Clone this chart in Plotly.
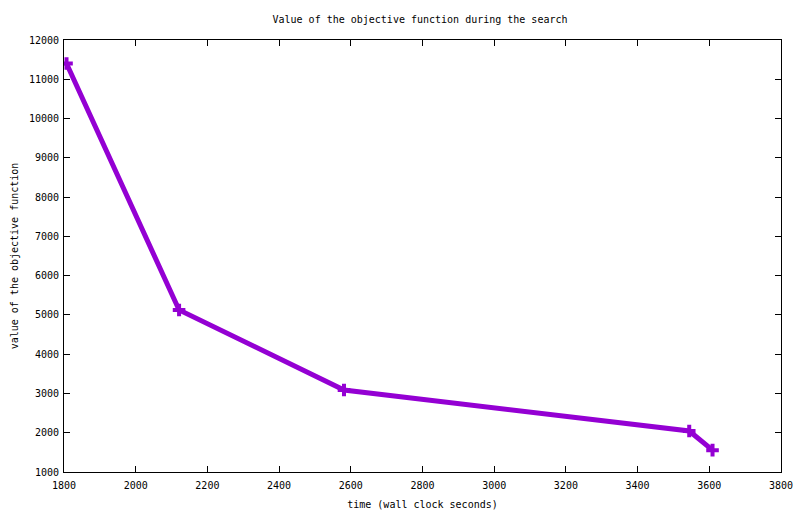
import plotly.graph_objects as go

time_s = [1807, 2121, 2581, 3544, 3609]
objective = [11400, 5125, 3088, 2045, 1557]

FONT = dict(family="DejaVu Sans Mono, Liberation Mono, monospace", size=10, color="black")

fig = go.Figure()
fig.add_trace(go.Scatter(
    x=time_s, y=objective, mode="lines+markers",
    line=dict(color="#9400D3", width=5),
    marker=dict(symbol="cross-thin", size=9, color="#9400D3",
                line=dict(color="#9400D3", width=4)),
    showlegend=False,
))

axis_common = dict(
    showgrid=False, zeroline=False, showline=True, linecolor="black", linewidth=1,
    mirror="allticks", ticks="inside", ticklen=6, tickcolor="black",
    tickfont=FONT, tickformat="d", automargin=False,
)
fig.update_layout(
    width=800, height=514,
    margin=dict(l=64, r=19, t=40, b=42),
    paper_bgcolor="white", plot_bgcolor="white",
    font=FONT,
    title=dict(text="Value of the objective function during the search",
               x=0.525, xanchor="center", y=0.963, yanchor="middle", font=FONT),
    xaxis=dict(range=[1800, 3800], tick0=1800, dtick=200, ticklabelstandoff=4,
               title=dict(text="time (wall clock seconds)", font=FONT, standoff=10),
               **axis_common),
    yaxis=dict(range=[1000, 12000], tick0=1000, dtick=1000, ticklabelstandoff=2,
               title=dict(text="value of the objective function", font=FONT, standoff=8),
               **axis_common),
)
fig.write_html("out.html", config={"displayModeBar": False},
               post_script="document.body.style.margin='0';document.body.style.overflow='hidden';")
